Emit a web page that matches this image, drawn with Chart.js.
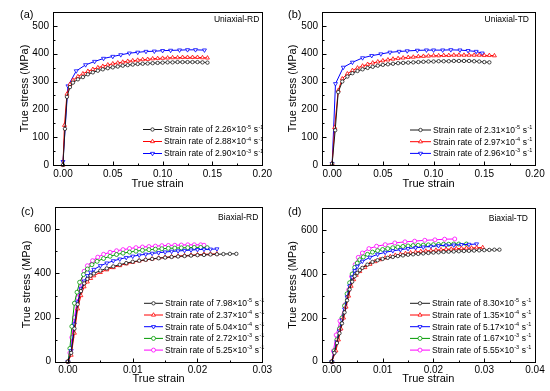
<!DOCTYPE html>
<html><head><meta charset="utf-8">
<script src="https://cdn.jsdelivr.net/npm/chart.js@4.4.0/dist/chart.umd.min.js"></script>
<style>
html,body{margin:0;padding:0;background:#fff;}
#wrap{position:relative;width:550px;height:391px;overflow:hidden;background:#fff;}
canvas{position:absolute;}
</style></head><body>
<div id="wrap">
<canvas id="ca" width="275" height="195" style="left:0;top:0"></canvas>
<canvas id="cb" width="275" height="195" style="left:275px;top:0"></canvas>
<canvas id="cc" width="275" height="196" style="left:0;top:195px"></canvas>
<canvas id="cd" width="275" height="196" style="left:275px;top:195px"></canvas>
</div>
<script>
// ---------- tick labels ----------
const uniXTicks = [0, 0.05, 0.10, 0.15, 0.20];
const uniYTicks = [0, 100, 200, 300, 400, 500];
const biRDXTicks = [0, 0.01, 0.02, 0.03];
const biTDXTicks = [0, 0.01, 0.02, 0.03, 0.04];
const biYTicks = [0, 200, 400, 600];

// ---------- legend labels ----------
const aRates = ['2.26', '2.88', '2.90'];  const aExps = ['-5', '-4', '-3'];
const bRates = ['2.31', '2.97', '2.96'];  const bExps = ['-5', '-4', '-3'];
const cRates = ['7.98', '2.37', '5.04', '2.72', '5.25']; const cExps = ['-5', '-4', '-4', '-3', '-3'];
const dRates = ['8.30', '1.35', '5.17', '1.67', '5.55']; const dExps = ['-5', '-4', '-4', '-3', '-3'];

// ---------- (a) Uniaxial-RD ----------
const a1 = [[0,0],[0.002,130],[0.004,245],[0.007,280],[0.010,296],[0.015,308],[0.020,316],[0.025,326],[0.030,333],[0.035,339],[0.040,344],[0.045,348],[0.050,351],[0.055,354],[0.060,357],[0.065,359],[0.070,361],[0.075,363],[0.080,364],[0.085,365],[0.090,366],[0.095,367],[0.100,368],[0.105,369],[0.110,369],[0.115,370],[0.120,370],[0.125,370],[0.130,370],[0.135,370],[0.140,369],[0.145,368]];
const a2 = [[0,0],[0.0015,143],[0.004,255],[0.007,290],[0.010,305],[0.015,318],[0.020,328],[0.025,337],[0.030,344],[0.035,350],[0.040,355],[0.045,360],[0.050,364],[0.055,367],[0.060,370],[0.065,373],[0.070,375],[0.075,377],[0.080,379],[0.085,380],[0.090,382],[0.095,383],[0.100,384],[0.105,385],[0.110,386],[0.115,386],[0.120,387],[0.125,387],[0.130,387],[0.135,387],[0.140,386],[0.145,385]];
const a3 = [[0,12],[0.005,284],[0.0133,338],[0.0227,360],[0.0317,372],[0.0407,383],[0.050,390],[0.058,396],[0.0667,402],[0.075,405],[0.0833,408],[0.0917,409],[0.100,411],[0.108,412],[0.117,413],[0.125,414],[0.133,414],[0.142,413]];

// ---------- (b) Uniaxial-TD ----------
const b1 = [[0,5],[0.003,125],[0.006,262],[0.010,300],[0.015,318],[0.020,330],[0.025,338],[0.030,344],[0.035,349],[0.040,353],[0.045,357],[0.050,360],[0.055,362],[0.060,364],[0.065,366],[0.070,367],[0.075,368],[0.080,369],[0.085,370],[0.090,371],[0.095,372],[0.100,372],[0.105,373],[0.110,373],[0.115,373],[0.120,374],[0.125,374],[0.130,374],[0.135,374],[0.140,373],[0.145,372],[0.150,370],[0.155,369]];
const b2 = [[0,5],[0.0025,135],[0.006,268],[0.010,310],[0.015,328],[0.020,340],[0.025,349],[0.030,356],[0.035,362],[0.040,367],[0.045,371],[0.050,375],[0.055,378],[0.060,381],[0.065,383],[0.070,385],[0.075,387],[0.080,388],[0.085,390],[0.090,391],[0.095,392],[0.100,393],[0.105,393],[0.110,394],[0.115,394],[0.120,395],[0.125,395],[0.130,395],[0.135,395],[0.140,395],[0.145,395],[0.150,394],[0.155,394],[0.160,393]];
const b3 = [[0,5],[0.0033,292],[0.011,351],[0.020,369],[0.030,385],[0.039,393],[0.048,399],[0.057,405],[0.066,408],[0.074,410],[0.084,412],[0.093,413],[0.100,413],[0.109,413],[0.117,414],[0.126,413],[0.134,411],[0.142,408],[0.148,402]];

// ---------- (c) Biaxial-RD ----------
const c1 = [[0,0],[0.0005,40],[0.001,150],[0.0015,260],[0.002,320],[0.0025,355],[0.003,375],[0.0035,390],[0.004,400],[0.005,413],[0.006,423],[0.007,432],[0.008,440],[0.009,447],[0.010,453],[0.011,458],[0.012,462],[0.013,466],[0.014,469],[0.015,472],[0.016,475],[0.017,477],[0.018,479],[0.019,481],[0.020,483],[0.021,484],[0.022,486],[0.023,487],[0.024,488],[0.025,489],[0.026,489]];
const c2 = [[0,0],[0.0005,30],[0.001,130],[0.0015,240],[0.002,300],[0.0025,340],[0.003,362],[0.0035,378],[0.004,390],[0.005,405],[0.006,417],[0.007,427],[0.008,436],[0.009,444],[0.010,451],[0.011,457],[0.012,462],[0.013,466],[0.014,470],[0.015,473],[0.016,476],[0.017,479],[0.018,481],[0.019,483],[0.020,485],[0.021,487],[0.022,488],[0.023,489]];
const c3 = [[0,0],[0.0005,50],[0.001,170],[0.0015,270],[0.002,330],[0.0025,365],[0.003,390],[0.0035,405],[0.004,418],[0.005,435],[0.006,447],[0.007,457],[0.008,465],[0.009,472],[0.010,478],[0.011,483],[0.012,487],[0.013,491],[0.014,494],[0.015,497],[0.016,500],[0.017,502],[0.018,504],[0.019,506],[0.020,508],[0.021,509],[0.022,510],[0.023,511]];
const c4 = [[0,0],[0.0003,60],[0.0006,160],[0.001,265],[0.0014,315],[0.0018,360],[0.0024,395],[0.003,420],[0.0037,440],[0.0045,455],[0.0055,468],[0.0065,478],[0.0075,486],[0.0085,492],[0.0095,497],[0.0105,501],[0.0115,505],[0.0125,508],[0.0135,510],[0.0145,512],[0.0155,514],[0.0165,515],[0.0175,516],[0.0185,517],[0.0195,518],[0.0205,518],[0.0215,517]];
const c5 = [[0,0],[0.0003,40],[0.0006,110],[0.001,200],[0.0015,290],[0.002,360],[0.0025,410],[0.003,435],[0.0038,458],[0.0046,474],[0.0055,487],[0.0065,496],[0.0075,503],[0.0085,508],[0.0095,513],[0.0105,517],[0.0115,520],[0.0125,522],[0.0135,524],[0.0145,526],[0.0155,527],[0.0165,528],[0.0175,529],[0.0185,530],[0.0195,530],[0.0205,530],[0.021,528]];

// ---------- (d) Biaxial-TD ----------
const d1 = [[0,0],[0.0005,40],[0.001,85],[0.0015,130],[0.002,175],[0.0025,225],[0.003,280],[0.0035,330],[0.004,365],[0.0045,390],[0.005,405],[0.0055,418],[0.006,428],[0.007,443],[0.008,455],[0.009,463],[0.010,469],[0.011,474],[0.012,478],[0.013,482],[0.014,485],[0.015,488],[0.016,490],[0.017,492],[0.018,494],[0.019,496],[0.020,498],[0.021,499],[0.022,501],[0.023,502],[0.024,503],[0.025,504],[0.026,505],[0.027,506],[0.028,507],[0.029,508],[0.030,509],[0.031,510],[0.032,511],[0.033,511]];
const d2 = [[0,0],[0.0008,50],[0.0013,100],[0.0018,150],[0.0023,200],[0.0028,250],[0.0033,300],[0.0038,345],[0.0043,375],[0.0048,395],[0.0055,412],[0.0065,430],[0.0075,445],[0.0085,457],[0.0095,466],[0.0105,474],[0.0115,480],[0.0125,486],[0.0135,490],[0.0145,494],[0.0155,497],[0.0165,500],[0.0175,503],[0.0185,505],[0.0195,507],[0.0205,509],[0.0215,511],[0.0225,513],[0.0235,514],[0.0245,516],[0.0255,517],[0.0265,518],[0.0275,519],[0.0285,520],[0.0297,521]];
const d3 = [[0,0],[0.0005,40],[0.001,90],[0.0015,140],[0.002,190],[0.0025,240],[0.003,295],[0.0035,345],[0.004,385],[0.0045,415],[0.005,435],[0.006,458],[0.0075,476],[0.009,490],[0.0105,499],[0.012,506],[0.0135,511],[0.015,516],[0.0165,520],[0.018,523],[0.0195,526],[0.021,529],[0.0225,531],[0.024,532],[0.0255,534],[0.027,535],[0.0285,537]];
const d4 = [[0,0],[0.0005,50],[0.001,100],[0.0015,150],[0.002,200],[0.0025,255],[0.003,310],[0.0035,360],[0.004,400],[0.0045,430],[0.005,450],[0.0055,465],[0.0062,478],[0.007,490],[0.008,500],[0.009,507],[0.010,512],[0.011,516],[0.012,520],[0.013,523],[0.014,526],[0.015,528],[0.016,530],[0.017,531],[0.018,532],[0.019,533],[0.020,534],[0.021,535],[0.022,536],[0.023,536],[0.024,537],[0.025,537],[0.0265,537]];
const d5 = [[0,0],[0.0003,49],[0.00085,122],[0.0016,186],[0.0026,260],[0.0033,328],[0.0039,389],[0.0046,443],[0.0052,476],[0.006,496],[0.0073,516],[0.0088,527],[0.0105,534],[0.0124,542],[0.0144,547],[0.0163,550],[0.0183,554],[0.0203,556],[0.0222,559],[0.0242,560]];

const FONT = "'Liberation Sans', Arial, Helvetica, sans-serif";
Chart.defaults.font.family = FONT;
Chart.defaults.color = '#000';

const STY = {
  black:  {c:'#1a1a1a', s:'circle',   rot:0,   r:1.7},
  red:    {c:'#ff0000', s:'triangle', rot:0,   r:2.3},
  blue:   {c:'#0000ff', s:'triangle', rot:180, r:2.3},
  green:  {c:'#009a00', s:'circle',   rot:0,   r:2.0},
  mag:    {c:'#ff00ff', s:'circle',   rot:0,   r:2.0}
};

function ds(pts, st) {
  return {
    data: pts.map(p => ({x:p[0], y:p[1]})),
    borderColor: st.c, borderWidth: 1, tension: 0,
    pointStyle: st.s, pointRotation: st.rot, pointRadius: st.r,
    pointBorderWidth: 0.8, pointBorderColor: st.c, pointBackgroundColor: '#fff',
    clip: false
  };
}

function drawMarker(ctx, st, x, y) {
  ctx.save();
  ctx.strokeStyle = st.c; ctx.fillStyle = '#fff'; ctx.lineWidth = 0.8;
  ctx.beginPath();
  if (st.s === 'circle') {
    ctx.arc(x, y, st.r, 0, Math.PI*2);
  } else {
    const r = st.r; let a = st.rot*Math.PI/180;
    for (let k=0;k<3;k++) {
      const px = x + Math.sin(a)*r, py = y - Math.cos(a)*r;
      if (k===0) ctx.moveTo(px,py); else ctx.lineTo(px,py);
      a += 2*Math.PI/3;
    }
    ctx.closePath();
  }
  ctx.fill(); ctx.stroke();
  ctx.restore();
}

const deco = {
  id: 'deco',
  afterDraw(chart, args, o) {
    const {ctx, chartArea: ca, scales: {x, y}} = chart;
    ctx.save();
    const L = Math.round(ca.left)+0.5, R = Math.round(ca.right)+0.5, T = Math.round(ca.top)+0.5, B = Math.round(ca.bottom)+0.5;
    ctx.strokeStyle = '#000'; ctx.lineWidth = 1;
    ctx.strokeRect(L, T, R-L, B-T);
    ctx.beginPath();
    const xs = o.xMaj, ys = o.yMaj;
    const dx = xs[1]-xs[0], dy = ys[1]-ys[0];
    xs.forEach(v => { const p = Math.round(x.getPixelForValue(v))+0.5; ctx.moveTo(p, B); ctx.lineTo(p, B-4); });
    ys.forEach(v => { const p = Math.round(y.getPixelForValue(v))+0.5; ctx.moveTo(L, p); ctx.lineTo(L+4, p); });
    xs.forEach(v => { const m = v + dx/2; if (m < x.max - 1e-9) { const p = Math.round(x.getPixelForValue(m))+0.5; ctx.moveTo(p, B); ctx.lineTo(p, B-2); } });
    ys.forEach(v => { const m = v + dy/2; if (m < y.max - 1e-9) { const p = Math.round(y.getPixelForValue(m))+0.5; ctx.moveTo(L, p); ctx.lineTo(L+2, p); } });
    ctx.stroke();

    ctx.fillStyle = '#000';
    ctx.textBaseline = 'middle';
    ctx.font = '11px ' + FONT;
    ctx.textAlign = 'left';
    ctx.fillText(o.letter, o.letterX, o.letterY);
    ctx.font = '8.5px ' + FONT;
    ctx.textAlign = 'right';
    ctx.fillText(o.tag, ca.right - o.tagDx, ca.top + o.tagDy);

    // legend
    ctx.textAlign = 'left';
    o.rates.forEach((rate, i) => {
      const st = o.styles[i];
      const yy = o.legY + i*o.legDy;
      ctx.strokeStyle = st.c; ctx.lineWidth = 1;
      ctx.beginPath(); ctx.moveTo(o.legX, yy); ctx.lineTo(o.legX + o.legLen, yy); ctx.stroke();
      drawMarker(ctx, st, o.legX + o.legLen/2, yy);
      ctx.fillStyle = '#000';
      let tx = o.legX + o.legLen + 2;
      ctx.font = '8.5px ' + FONT;
      const base = 'Strain rate of ' + rate + '\u00d710';
      ctx.fillText(base, tx, yy + 0.5); tx += ctx.measureText(base).width;
      ctx.font = '5.5px ' + FONT;
      ctx.fillText(o.exps[i], tx + 0.3, yy - 2.5); tx += ctx.measureText(o.exps[i]).width + 0.6;
      ctx.font = '8.5px ' + FONT;
      ctx.fillText(' s', tx, yy + 0.5); tx += ctx.measureText(' s').width;
      ctx.font = '5.5px ' + FONT;
      ctx.fillText('-1', tx + 0.3, yy - 2.5);
    });
    ctx.restore();
  }
};

function make(id, cfg) {
  const canvas = document.getElementById(id);
  new Chart(canvas, {
    type: 'line',
    data: { datasets: cfg.series.map((p, i) => ds(p, cfg.styles[i])) },
    plugins: [deco],
    options: {
      responsive: false, animation: false, devicePixelRatio: 1, events: [],
      layout: { padding: { left: 0, top: cfg.top, right: cfg.right, bottom: 0 } },
      plugins: {
        legend: { display: false }, tooltip: { enabled: false },
        deco: {
          xMaj: cfg.xTicks, yMaj: cfg.yTicks, letter: cfg.letter, letterX: cfg.letterX, letterY: cfg.letterY,
          tag: cfg.tag, tagDx: cfg.tagDx, tagDy: cfg.tagDy,
          rates: cfg.rates, exps: cfg.exps, styles: cfg.styles,
          legX: cfg.legX, legY: cfg.legY, legDy: cfg.legDy, legLen: cfg.legLen
        }
      },
      scales: {
        x: {
          type: 'linear', position: 'bottom', min: cfg.xMin, max: cfg.xMax,
          grid: { display: false, drawTicks: false }, border: { display: false },
          afterBuildTicks: s => { s.ticks = cfg.xTicks.map(v => ({value: v})); },
          afterFit: s => { s.height = cfg.xH; },
          ticks: { autoSkip: false, maxRotation: 0, padding: 3, font: { size: 10 }, color: '#000',
                   callback: v => Number(v).toFixed(2) },
          title: { display: true, text: 'True strain', font: { size: 11 }, color: '#000', padding: { top: 0, bottom: cfg.xTitlePad } }
        },
        y: {
          type: 'linear', position: 'left', min: cfg.yMin, max: cfg.yMax,
          grid: { display: false, drawTicks: false }, border: { display: false },
          afterBuildTicks: s => { s.ticks = cfg.yTicks.map(v => ({value: v})); },
          afterFit: s => { s.width = cfg.yW; },
          ticks: { autoSkip: false, padding: cfg.yPad, font: { size: 10 }, color: '#000',
                   callback: v => String(Math.round(v)) },
          title: { display: true, text: 'True stress (MPa)', font: { size: 11 }, color: '#000', padding: { top: cfg.yTitlePad, bottom: 0 } }
        }
      }
    }
  });
}

make('ca', { series: [a1, a2, a3], styles: [STY.black, STY.red, STY.blue],
  xMin: -0.01, xMax: 0.20, yMin: 0, yMax: 550, xTicks: uniXTicks, yTicks: uniYTicks,
  top: 12, right: 11, yW: 53, xH: 30, yPad: 4, xTitlePad: 4, yTitlePad: 18.4,
  letter: '(a)', letterX: 20, letterY: 15, tag: 'Uniaxial-RD', tagDx: 3, tagDy: 8,
  rates: aRates, exps: aExps, legX: 143, legY: 129.5, legDy: 12, legLen: 19 });

make('cb', { series: [b1, b2, b3], styles: [STY.black, STY.red, STY.blue],
  xMin: -0.01, xMax: 0.20, yMin: 0, yMax: 550, xTicks: uniXTicks, yTicks: uniYTicks,
  top: 12, right: 15, yW: 47, xH: 30, yPad: 4, xTitlePad: 4, yTitlePad: 11.7,
  letter: '(b)', letterX: 13, letterY: 15, tag: 'Uniaxial-TD', tagDx: 6, tagDy: 8,
  rates: bRates, exps: bExps, legX: 135, legY: 130, legDy: 11.7, legLen: 21 });

make('cc', { series: [c1, c2, c3, c4, c5], styles: [STY.black, STY.red, STY.blue, STY.green, STY.mag],
  xMin: -0.002, xMax: 0.03, yMin: 0, yMax: 700, xTicks: biRDXTicks, yTicks: biYTicks,
  top: 12.3, right: 9, yW: 55, xH: 29.3, yPad: 4, xTitlePad: 5, yTitlePad: 20,
  letter: '(c)', letterX: 21, letterY: 16.7, tag: 'Biaxial-RD', tagDx: 4, tagDy: 10,
  rates: cRates, exps: cExps, legX: 144, legY: 108.3, legDy: 11.7, legLen: 19 });

make('cd', { series: [d1, d2, d3, d4, d5], styles: [STY.black, STY.red, STY.blue, STY.green, STY.mag],
  xMin: -0.002, xMax: 0.04, yMin: 0, yMax: 700, xTicks: biTDXTicks, yTicks: biYTicks,
  top: 13.3, right: 15, yW: 46.7, xH: 29.3, yPad: 4, xTitlePad: 5, yTitlePad: 11.7,
  letter: '(d)', letterX: 13, letterY: 16.7, tag: 'Biaxial-TD', tagDx: 7, tagDy: 10.7,
  rates: dRates, exps: dExps, legX: 135, legY: 108.3, legDy: 11.7, legLen: 20 });
</script>
</body></html>
